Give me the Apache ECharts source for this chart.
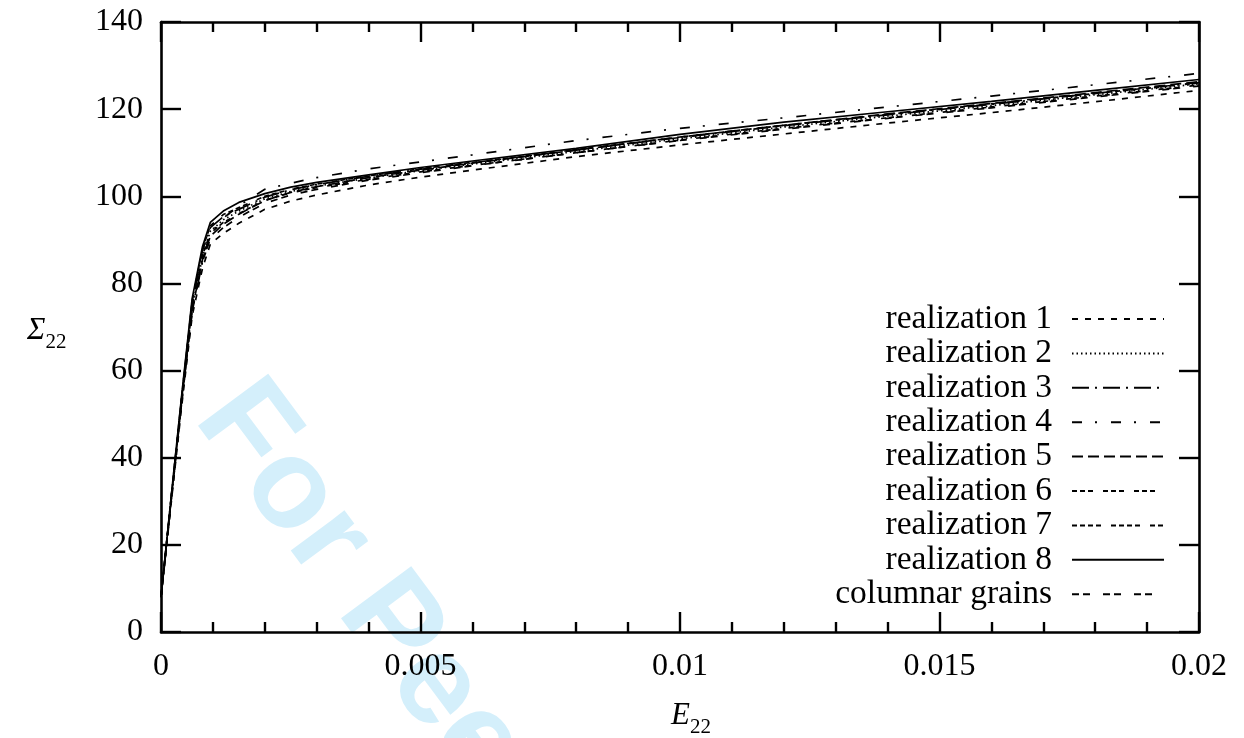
<!DOCTYPE html>
<html>
<head>
<meta charset="utf-8">
<title>Σ22 vs E22</title>
<script src="https://cdn.jsdelivr.net/npm/echarts@6/dist/echarts.min.js"></script>
<style>
  html, body { margin: 0; padding: 0; background: #ffffff; }
  #chart { width: 1244px; height: 738px; }
</style>
</head>
<body>
<div id="chart"></div>
<script>
// Macroscopic stress Σ22 against strain E22 for each grain realization
const strain = [0, 0.0002, 0.0004, 0.0006, 0.0008, 0.00095, 0.0012, 0.0015, 0.002, 0.0025, 0.003,
                0.004, 0.005, 0.006, 0.008, 0.01, 0.012, 0.014, 0.016, 0.018, 0.02];

const realization1 = [8, 30.0, 52.0, 72.5, 83.5, 89.0, 91.5, 93.8, 97.0, 98.9, 100.3, 102.6, 104.4, 106.0, 109.1, 111.8, 114.3, 116.8, 119.2, 121.7, 124.3];
const realization2 = [8, 31.0, 53.5, 74.5, 86.0, 92.0, 94.6, 96.6, 99.4, 101.1, 102.3, 104.2, 105.9, 107.4, 110.3, 113.2, 115.9, 118.4, 120.8, 123.3, 125.8];
const realization3 = [8, 31.2, 54.0, 75.5, 87.5, 92.8, 95.3, 97.0, 99.8, 101.5, 102.7, 104.6, 106.2, 107.7, 110.6, 113.5, 116.2, 118.7, 121.1, 123.6, 126.1];
const realization4 = [8, 30.5, 53.0, 73.5, 85.0, 91.5, 95.0, 97.8, 101.6, 103.0, 104.3, 106.3, 107.9, 109.5, 112.8, 115.6, 118.0, 120.5, 123.0, 125.6, 128.2];
const realization5 = [8, 30.8, 53.2, 74.0, 85.5, 90.8, 93.6, 95.9, 99.0, 100.9, 102.2, 104.3, 106.0, 107.6, 110.6, 113.6, 116.3, 118.9, 121.3, 123.8, 126.3];
const realization6 = [8, 31.0, 53.6, 74.8, 86.5, 91.5, 94.0, 96.0, 99.1, 100.8, 102.0, 103.9, 105.6, 107.1, 110.0, 112.9, 115.6, 118.0, 120.5, 123.0, 125.5];
const realization7 = [8, 31.3, 54.2, 75.8, 88.0, 93.2, 95.8, 97.4, 100.0, 101.6, 102.8, 104.7, 106.3, 107.8, 110.7, 113.6, 116.3, 118.8, 121.2, 123.6, 126.0];
const realization8 = [8, 31.5, 54.5, 76.5, 88.5, 94.0, 96.6, 98.6, 100.6, 102.1, 103.2, 104.9, 106.6, 108.1, 111.0, 114.2, 117.0, 119.4, 121.8, 124.3, 126.8];
const columnarGrains = [8, 30.6, 52.8, 73.5, 85.0, 90.2, 92.8, 95.2, 98.4, 100.3, 101.6, 103.7, 105.4, 107.0, 110.0, 112.8, 115.4, 117.9, 120.3, 122.8, 125.3];

const seriesNames = ['realization 1', 'realization 2', 'realization 3', 'realization 4', 'realization 5',
                     'realization 6', 'realization 7', 'realization 8', 'columnar grains'];
const seriesValues = [realization1, realization2, realization3, realization4, realization5,
                      realization6, realization7, realization8, columnarGrains];

const xTickLabels = ['0', '0.005', '0.01', '0.015', '0.02'];
const yTickLabels = ['0', '20', '40', '60', '80', '100', '120', '140'];

// gnuplot-like dash patterns, one per curve
const dashPatterns = [
  [6, 7],
  [1.5, 3],
  [17, 6, 2, 6],
  [10, 13, 2, 14],
  [11, 5],
  [5, 3, 5, 3, 5, 10],
  [5, 3, 5, 3, 5, 3, 5, 10],
  'solid',
  [7, 4, 7, 13]
];

const serif = '"Liberation Serif", "DejaVu Serif", serif';

const series = seriesNames.map((name, i) => ({
  name: name,
  type: 'line',
  xAxisIndex: 0,
  yAxisIndex: 0,
  data: strain.map((e, k) => [e, seriesValues[i][k]]),
  symbol: 'none',
  showSymbol: false,
  smooth: false,
  lineStyle: { color: '#000000', width: 1.7, type: dashPatterns[i] },
  itemStyle: { color: '#000000' },
  z: 3
}));

const axisLineStyle = { color: '#000000', width: 2.6 };

const xCommon = {
  type: 'value',
  min: 0,
  max: 0.02,
  interval: 0.005,
  splitLine: { show: false },
  axisLine: { show: true, onZero: false, lineStyle: axisLineStyle },
  axisTick: { show: true, inside: true, length: 20, lineStyle: { color: '#000', width: 2.4 } },
  minorTick: { show: true, splitNumber: 5, length: 10, lineStyle: { color: '#000', width: 2.4 } },
  minorSplitLine: { show: false }
};

const yCommon = {
  type: 'value',
  min: 0,
  max: 140,
  interval: 20,
  splitLine: { show: false },
  axisLine: { show: true, onZero: false, lineStyle: axisLineStyle },
  axisTick: { show: true, inside: true, length: 20, lineStyle: { color: '#000', width: 2.4 } }
};

const option = {
  animation: false,
  backgroundColor: '#ffffff',
  grid: { left: 161, right: 45, top: 22, bottom: 106, containLabel: false },
  xAxis: [
    Object.assign({}, xCommon, {
      position: 'bottom',
      axisLabel: {
        show: true, margin: 19, color: '#000', fontFamily: serif, fontSize: 32,
        formatter: v => xTickLabels[Math.round(v / 0.005)]
      }
    }),
    Object.assign({}, xCommon, { position: 'top', axisLabel: { show: false } })
  ],
  yAxis: [
    Object.assign({}, yCommon, {
      position: 'left',
      axisLabel: {
        show: true, margin: 18, color: '#000', fontFamily: serif, fontSize: 32,
        formatter: v => yTickLabels[Math.round(v / 20)]
      }
    }),
    Object.assign({}, yCommon, { position: 'right', axisLabel: { show: false } })
  ],
  legend: {
    show: true,
    orient: 'vertical',
    align: 'right',
    right: 79,
    top: 302,
    padding: 0,
    itemGap: 0.4,
    itemWidth: 92,
    itemHeight: 14,
    data: seriesNames,
    itemStyle: { opacity: 0 },
    textStyle: {
      color: '#000', fontFamily: serif, fontSize: 33.5, lineHeight: 32,
      padding: [0, 15, 0, 0]
    }
  },
  graphic: [
    {
      type: 'text',
      z: -10,
      x: 221,
      y: 398,
      rotation: -53.4 * Math.PI / 180,
      silent: true,
      style: {
        text: 'For Peer Review',
        font: 'bold 127px "Liberation Sans", Arial, sans-serif',
        fill: '#d4effb',
        textAlign: 'left',
        textVerticalAlign: 'middle'
      }
    },
    {
      type: 'text',
      x: 27,
      y: 334,
      style: {
        text: '{a|Σ}{b|22}',
        textVerticalAlign: 'middle',
        rich: {
          a: { fontFamily: serif, fontStyle: 'italic', fontSize: 31, fill: '#000', padding: [0, 0, 6, 0] },
          b: { fontFamily: serif, fontSize: 21, fill: '#000', verticalAlign: 'bottom' }
        }
      }
    },
    {
      type: 'text',
      x: 671,
      y: 719,
      style: {
        text: '{a|E}{b|22}',
        textVerticalAlign: 'middle',
        rich: {
          a: { fontFamily: serif, fontStyle: 'italic', fontSize: 31, fill: '#000', padding: [0, 0, 6, 0] },
          b: { fontFamily: serif, fontSize: 21, fill: '#000', verticalAlign: 'bottom' }
        }
      }
    }
  ],
  series: series
};

const chart = echarts.init(document.getElementById('chart'), null, { renderer: 'canvas' });
chart.setOption(option);
</script>
</body>
</html>
